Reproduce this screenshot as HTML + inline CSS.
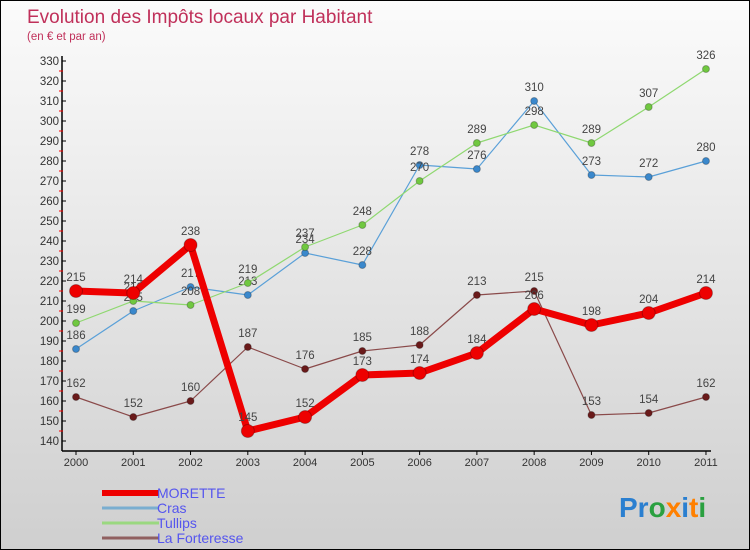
<!DOCTYPE html>
<html><head><meta charset="utf-8"><style>
body{margin:0}
#c{width:750px;height:550px;position:relative;box-sizing:border-box;border:1px solid #000;background:linear-gradient(#fbfbfb,#cfcfcf);font-family:"Liberation Sans",sans-serif;overflow:hidden}
svg text{font-family:"Liberation Sans",sans-serif}
</style></head><body>
<div id="c">
<svg id="s" width="750" height="550">
<text x="26" y="22" font-size="19" fill="#c0305a">Evolution des Impôts locaux par Habitant</text>
<text x="26" y="39" font-size="11.5" fill="#c0305a">(en € et par an)</text>
<text x="618" y="516" font-size="28" font-weight="bold"><tspan fill="#2a7fd0">Pr</tspan><tspan fill="#2aa040">o</tspan><tspan fill="#ff8000">x</tspan><tspan fill="#2a7fd0">i</tspan><tspan fill="#ff8000">t</tspan><tspan fill="#2aa040">i</tspan></text>
</svg>
</div>
<script>
const years=["2000","2001","2002","2003","2004","2005","2006","2007","2008","2009","2010","2011"];
const yTicks=[140,150,160,170,180,190,200,210,220,230,240,250,260,270,280,290,300,310,320,330];
const morette=[215,214,238,145,152,173,174,184,206,198,204,214];
const cras=[186,205,217,213,234,228,278,276,310,273,272,280];
const tullips=[199,210,208,219,237,248,270,289,298,289,307,326];
const forteresse=[162,152,160,187,176,185,188,213,215,153,154,162];
const s=document.getElementById('s');const NS='http://www.w3.org/2000/svg';
function X(i){return 75+i*57.27}
function Y(v){return 440-(v-140)*2}
function mk(t,a,p){const e=document.createElementNS(NS,t);for(const k in a)e.setAttribute(k,a[k]);(p||s).appendChild(e);return e}
// axes
let ax=mk('line',{x1:61,y1:55,x2:61,y2:450,stroke:'#000','stroke-width':1.5});


let xa=mk('line',{x1:61,y1:450,x2:710,y2:450,stroke:'#000','stroke-width':1.5});


yTicks.forEach(v=>{
 mk('line',{x1:61,y1:Y(v),x2:65,y2:Y(v),stroke:'#000'});
 if(v<330)mk('line',{x1:58,y1:Y(v+5),x2:62,y2:Y(v+5),stroke:'#f00'});
 const t=mk('text',{x:58,y:Y(v)+4,'font-size':11.5,'text-anchor':'end',fill:'#333'});t.textContent=v;
 
 
});
years.forEach((y,i)=>{
 mk('line',{x1:X(i),y1:450,x2:X(i),y2:454,stroke:'#000'});
 const t=mk('text',{x:X(i),y:465,'font-size':11,'text-anchor':'middle',fill:'#333'});t.textContent=y;
 
 
});
function series(d,col,w,r,name,dot){
 const g=mk('g',{});
 
 
 mk('polyline',{points:d.map((v,i)=>X(i)+','+Y(v)).join(' '),fill:'none',stroke:col,'stroke-width':w,'stroke-linejoin':'round'},g);
 d.forEach((v,i)=>{
  const c=mk('circle',{cx:X(i),cy:Y(v),r:r,fill:dot||col,stroke:'rgba(0,0,0,0.25)'},g);
  
  
  const t=mk('text',{x:X(i),y:Y(v)-10,'font-size':11.5,'text-anchor':'middle',fill:'#444'},g);t.textContent=v;
  
  
 });
}
series(forteresse,'#8a4a4a',1.2,3.5,'la-forteresse-series','#6a1a1a');
series(cras,'#5aa0d8',1.2,3.5,'cras-series','#3a88cc');
series(tullips,'#8fd870',1.2,3.5,'tullips-series','#70c840');
series(morette,'#ee0000',7,6.5,'morette-series');
const leg=[['MORETTE','#ee0000',6],['Cras','#7aaed0',3],['Tullips','#9ad880',3],['La Forteresse','#906060',3]];
leg.forEach((l,i)=>{
 const y=492+i*15;
 const g=mk('g',{});
 
 
 mk('line',{x1:101,y1:y,x2:158,y2:y,stroke:l[1],'stroke-width':l[2]},g);
 const t=mk('text',{x:156,y:y+5,'font-size':14,fill:'#5555ee'},g);t.textContent=l[0];
});
</script>
</body></html>
